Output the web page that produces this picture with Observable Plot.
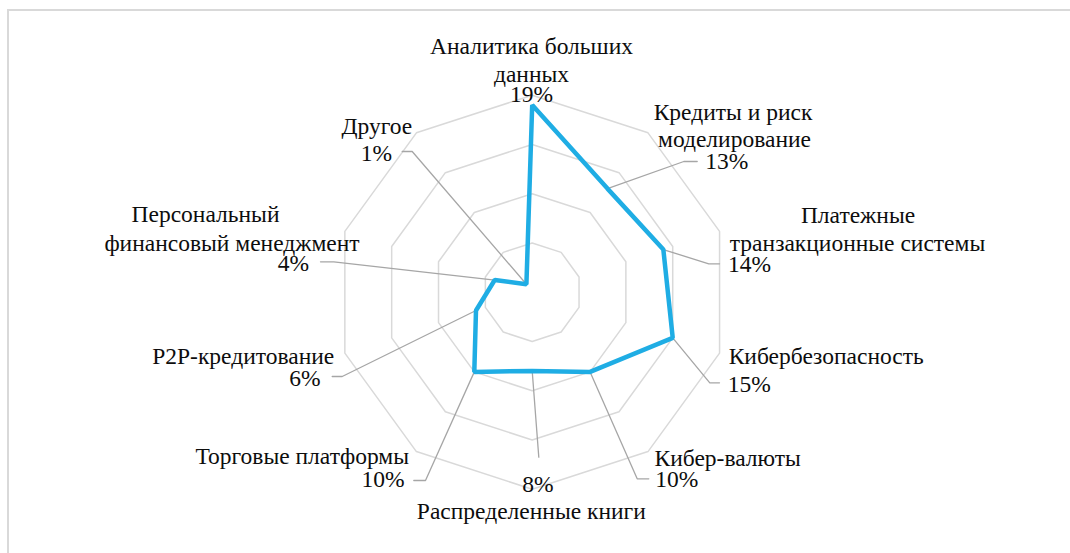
<!DOCTYPE html>
<html>
<head>
<meta charset="utf-8">
<script src="https://cdn.jsdelivr.net/npm/d3@7"></script>
<script src="https://cdn.jsdelivr.net/npm/@observablehq/plot@0.6"></script>
<style>
  html, body { margin: 0; padding: 0; background: #fff; }
  #wrap { position: relative; width: 1070px; height: 553px; overflow: hidden; background: #fff; }
  #border { position: absolute; left: 7px; top: 9px; width: 2000px; height: 2000px; border: 2px solid #d9d9d9; box-sizing: border-box; }
  #chart { position: absolute; left: 0; top: 0; }
</style>
</head>
<body>
<div id="wrap"><div id="border"></div><div id="chart"></div></div>
<script>
// ---- data ----
const categories = [
  "Аналитика больших данных",
  "Кредиты и риск моделирование",
  "Платежные транзакционные системы",
  "Кибербезопасность",
  "Кибер-валюты",
  "Распределенные книги",
  "Торговые платформы",
  "P2P-кредитование",
  "Персональный финансовый менеджмент",
  "Другое"
];
const values = [19, 13, 14, 15, 10, 8, 10, 6, 4, 1];
const ringTicks = [5, 10, 15, 20];

// label text lines for each category (category lines + value line)
const labelLines = [
  ["Аналитика больших", "данных", "19%"],
  ["Кредиты и риск", "моделирование", "13%"],
  ["Платежные", "транзакционные системы", "14%"],
  ["Кибербезопасность", "15%"],
  ["Кибер-валюты", "10%"],
  ["8%", "Распределенные книги"],
  ["Торговые платформы", "10%"],
  ["P2P-кредитование", "6%"],
  ["Персональный", "финансовый менеджмент", "4%"],
  ["Другое", "1%"]
];

// ---- layout (pixels) ----
const W = 1070, H = 553;
const cx = 531.7, cy = 291.7, k = 9.85; // centre and px per percent
const FONT = "Liberation Serif, Times New Roman, serif";
const FONT_SIZE = 23.5;
// label line positions [centre x, baseline y]
const labelPos = [
  [[531, 53.3], [531, 81], [531, 101]],
  [[732.5, 119.3], [734, 146.7], [726.3, 168.3]],
  [[857.5, 222.7], [857, 250], [749, 271.7]],
  [[825.7, 363.3], [748.7, 391.7]],
  [[727.2, 465], [676.3, 486.3]],
  [[537.5, 491.7], [530.8, 518.3]],
  [[301.7, 463.3], [382.5, 486.7]],
  [[242.7, 363.3], [304.5, 385]],
  [[205, 221.7], [231.5, 250], [293, 270]],
  [[376.3, 133.3], [375.8, 160]]
];
// leader line points after the data point: [elbow, end]
const leaderPos = [
  [],
  [[683.3, 161], [696.7, 161]],
  [[708.3, 263.3], [719, 263.3]],
  [[709.3, 382.3], [719, 382.3]],
  [[636.7, 478.3], [648.3, 478.3]],
  [[538.3, 456.7]],
  [[425, 480], [413.3, 480]],
  [[341.7, 376], [331.7, 376]],
  [[333.3, 261.3], [320, 261.3]],
  [[411.7, 151], [401.7, 151]]
];

const ux = px => (px - cx) / k;
const uy = py => (cy - py) / k;
const n = categories.length;
const ang = i => 2 * Math.PI * i / n;
const polar = (i, r) => ({x: r * Math.sin(ang(i)), y: r * Math.cos(ang(i))});

const gridRows = ringTicks.flatMap(r => categories.map((c, i) => ({ring: r, ...polar(i, r)})));
const dataRows = categories.map((c, i) => ({category: c, value: values[i], ...polar(i, values[i])}));
const leaderRows = [];
leaderPos.forEach((pts, i) => {
  if (!pts.length) return;
  leaderRows.push({id: i, ...polar(i, values[i])});
  pts.forEach(([px, py]) => leaderRows.push({id: i, x: ux(px), y: uy(py)}));
});
const textRows = [];
labelLines.forEach((lines, i) => lines.forEach((t, j) => {
  const [px, py] = labelPos[i][j];
  textRows.push({text: t, x: ux(px), y: uy(py)});
}));

const chart = Plot.plot({
  width: W,
  height: H,
  margin: 0,
  x: {domain: [ux(0), ux(W)], range: [0, W], axis: null},
  y: {domain: [uy(H), uy(0)], range: [H, 0], axis: null},
  style: {background: "transparent", overflow: "visible", fontFamily: FONT, fontSize: FONT_SIZE + "px"},
  marks: [
    Plot.line(gridRows, {x: "x", y: "y", z: "ring", curve: "linear-closed", stroke: "#d9d9d9", strokeWidth: 1.5}),
    Plot.line(leaderRows, {x: "x", y: "y", z: "id", stroke: "#a6a6a6", strokeWidth: 1.3}),
    Plot.line(dataRows, {x: "x", y: "y", curve: "linear-closed", stroke: "#1fade4", strokeWidth: 4.5, strokeLinejoin: "miter"}),
    Plot.text(textRows, {x: "x", y: "y", text: "text", textAnchor: "middle", lineAnchor: "bottom",
      fontFamily: FONT, fontSize: FONT_SIZE, fill: "#0d0d0d"})
  ]
});
document.getElementById("chart").appendChild(chart);
</script>
</body>
</html>
